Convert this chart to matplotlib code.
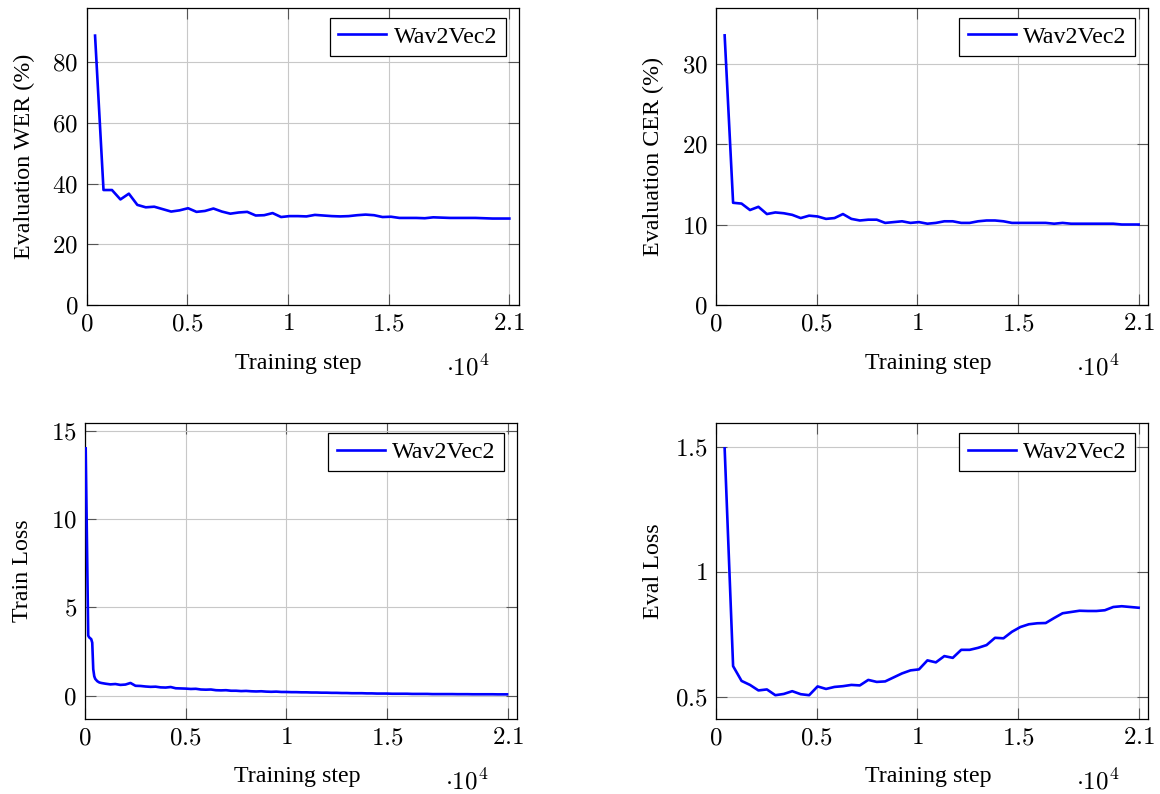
import matplotlib
matplotlib.use("Agg")
import matplotlib.pyplot as plt

plt.rcParams['font.family'] = ['Liberation Serif', 'DejaVu Serif']
plt.rcParams['mathtext.fontset'] = 'cm'

# ---------------- data ----------------
eval_steps = list(range(420, 21001, 420))

eval_wer = [88.8, 37.9, 37.9, 34.8, 36.7, 33.0, 32.2, 32.4, 31.6, 30.8,
            31.2, 31.9, 30.7, 31.0, 31.8, 30.8, 30.1, 30.5, 30.7, 29.5,
            29.6, 30.3, 29.0, 29.3, 29.3, 29.2, 29.7, 29.5, 29.3, 29.2,
            29.3, 29.6, 29.8, 29.6, 29.0, 29.1, 28.7, 28.7, 28.7, 28.6,
            28.9, 28.8, 28.7, 28.7, 28.7, 28.7, 28.6, 28.5, 28.5, 28.5]

eval_cer = [33.5, 12.7, 12.6, 11.8, 12.2, 11.3, 11.5, 11.4, 11.2, 10.8,
            11.1, 11.0, 10.7, 10.8, 11.3, 10.7, 10.5, 10.6, 10.6, 10.2,
            10.3, 10.4, 10.2, 10.3, 10.1, 10.2, 10.4, 10.4, 10.2, 10.2,
            10.4, 10.5, 10.5, 10.4, 10.2, 10.2, 10.2, 10.2, 10.2, 10.1,
            10.2, 10.1, 10.1, 10.1, 10.1, 10.1, 10.1, 10.0, 10.0, 10.0]

eval_loss = [1.493, 0.624, 0.565, 0.549, 0.527, 0.531, 0.508, 0.513, 0.524, 0.512,
             0.508, 0.543, 0.533, 0.541, 0.544, 0.549, 0.547, 0.569, 0.561, 0.563,
             0.579, 0.595, 0.607, 0.611, 0.647, 0.639, 0.664, 0.657, 0.689, 0.689,
             0.697, 0.708, 0.737, 0.735, 0.761, 0.780, 0.791, 0.795, 0.796, 0.816,
             0.835, 0.840, 0.845, 0.844, 0.844, 0.847, 0.860, 0.863, 0.860, 0.857]

train_steps = [25, 150, 200, 300, 350, 400, 450, 500, 600, 700, 800,
               1000, 1250, 1500, 1750, 2000, 2250, 2500, 2750, 3000, 3250,
               3500, 3750, 4000, 4250, 4500, 4750, 5000, 5250, 5500, 5750,
               6000, 6250, 6500, 6750, 7000, 7250, 7500, 7750, 8000, 8250,
               8500, 8750, 9000, 9250, 9500, 9750, 10000, 10250, 10500, 10750,
               11000, 11250, 11500, 11750, 12000, 12250, 12500, 12750, 13000, 13250,
               13500, 13750, 14000, 14250, 14500, 14750, 15000, 15250, 15500, 15750,
               16000, 16250, 16500, 16750, 17000, 17250, 17500, 17750, 18000, 18250,
               18500, 18750, 19000, 19250, 19500, 19750, 20000, 20250, 20500, 20750,
               20970]
train_loss = [14.0, 3.4, 3.3, 3.2, 3.0, 1.5, 1.1, 0.95, 0.82, 0.75, 0.72,
              0.68, 0.64, 0.66, 0.61, 0.63, 0.72, 0.56, 0.55, 0.52, 0.50,
              0.51, 0.47, 0.46, 0.49, 0.42, 0.41, 0.40, 0.38, 0.39, 0.35,
              0.34, 0.35, 0.31, 0.30, 0.31, 0.28, 0.28, 0.26, 0.27, 0.25,
              0.24, 0.25, 0.23, 0.22, 0.23, 0.21, 0.21, 0.20, 0.20, 0.19,
              0.19, 0.18, 0.18, 0.17, 0.17, 0.16, 0.16, 0.15, 0.15, 0.14,
              0.14, 0.14, 0.13, 0.13, 0.12, 0.12, 0.12, 0.11, 0.11, 0.11,
              0.11, 0.10, 0.10, 0.10, 0.10, 0.09, 0.09, 0.09, 0.09, 0.09,
              0.085, 0.085, 0.085, 0.08, 0.08, 0.08, 0.08, 0.08, 0.075, 0.075,
              0.075]

x_ticks = [0, 5000, 10000, 15000, 21000]
x_tick_labels = ['0', '0.5', '1', '1.5', '2.1']

panels = [
    dict(x=eval_steps, y=eval_wer, ylabel='Evaluation WER (%)', ylim=(0, 97.9),
         yticks=[0, 20, 40, 60, 80], ytl=['0', '20', '40', '60', '80']),
    dict(x=eval_steps, y=eval_cer, ylabel='Evaluation CER (%)', ylim=(0, 36.9),
         yticks=[0, 10, 20, 30], ytl=['0', '10', '20', '30']),
    dict(x=train_steps, y=train_loss, ylabel='Train Loss', ylim=(-1.32, 15.42),
         yticks=[0, 5, 10, 15], ytl=['0', '5', '10', '15']),
    dict(x=eval_steps, y=eval_loss, ylabel='Eval Loss', ylim=(0.413, 1.593),
         yticks=[0.5, 1, 1.5], ytl=['0.5', '1', '1.5']),
]

W, H = 1160, 794
fig = plt.figure(figsize=(W / 100, H / 100), dpi=100)

# axes rectangles in pixels: left, top, right, bottom
rects = [(86.6, 8, 519, 305), (716.2, 8, 1148.3, 305),
         (85.2, 423.3, 517.3, 719), (716.2, 423.3, 1148.3, 719)]

FS = 17.3
TFS = 18
for p, (l, t, r, b) in zip(panels, rects):
    ax = fig.add_axes([l / W, 1 - b / H, (r - l) / W, (b - t) / H])
    ax.plot(p['x'], p['y'], color='#0000ff', lw=1.9, label='Wav2Vec2', zorder=3)
    ax.set_xlim(0, 21480)
    ax.set_ylim(*p['ylim'])
    ax.set_xticks(x_ticks, ['$%s$' % s for s in x_tick_labels])
    ax.set_yticks(p['yticks'], ['$%s$' % s for s in p['ytl']])
    ax.grid(True, color='#c8c8c8', lw=0.8, zorder=0)
    ax.tick_params(direction='in', length=8, width=0.8, color='#555555',
                   top=True, right=True, labelsize=TFS, pad=6)
    for s in ax.spines.values():
        s.set_linewidth(0.9)
        s.set_color('black')
    ax.set_xlabel('Training step', fontsize=FS)
    ax.xaxis.set_label_coords(0.49, -0.16)
    ax.set_ylabel(p['ylabel'], fontsize=FS)
    ax.yaxis.set_label_coords(-0.12, 0.5)
    ax.text(0.882, -0.21, r'$\cdot 10^4$', transform=ax.transAxes,
            ha='center', va='center', fontsize=TFS)
    leg = ax.legend(loc='upper right', bbox_to_anchor=(1 - 13.5 / (r - l), 1 - 9.5 / (b - t)),
                    borderaxespad=0, fontsize=FS, fancybox=False, framealpha=1,
                    edgecolor='black', handlelength=2.0, handletextpad=0.3,
                    borderpad=0.35)
    leg.get_frame().set_linewidth(0.9)

fig.savefig('out.png', dpi=100)
